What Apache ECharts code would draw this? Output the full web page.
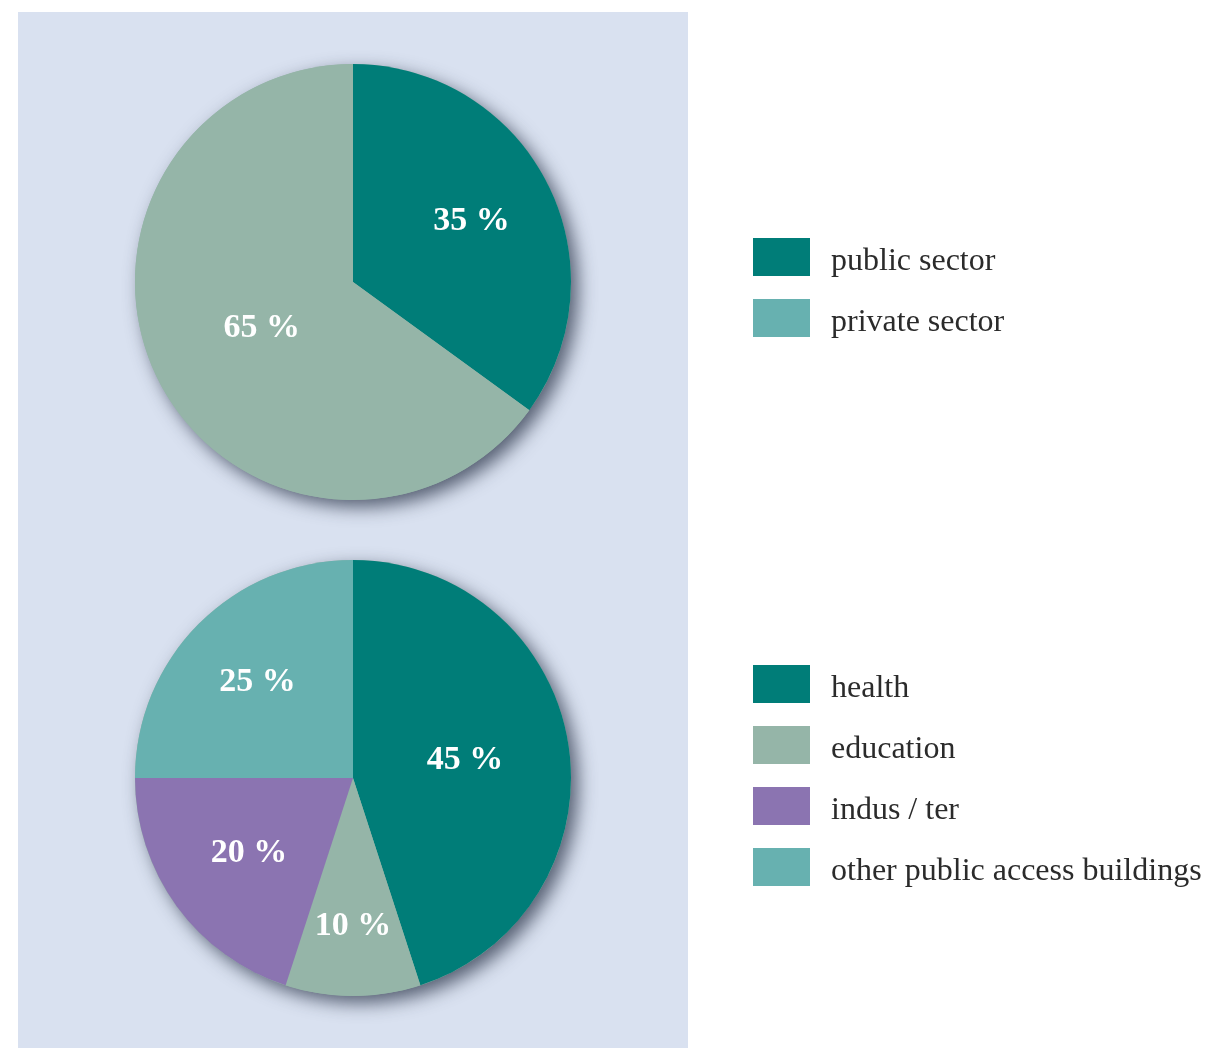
<!DOCTYPE html>
<html><head><meta charset="utf-8">
<script src="https://cdn.jsdelivr.net/npm/echarts@6/dist/echarts.min.js"></script>
<style>html,body{margin:0;padding:0;background:#fff}#c{width:1221px;height:1048px}</style>
</head><body><div id="c"></div>
<script>
const sectorNames = ['public sector', 'private sector'];
const sectorValues = [35, 65];
const useNames = ['health', 'education', 'indus / ter', 'other public access buildings'];
const useValues = [45, 10, 20, 25];

const teal = '#007d78', sage = '#95b5a8', purple = '#8b74b1', lightTeal = '#67b1b0';
const R = 218;
const topC = [353, 282], botC = [353, 778];
const topLabelR = [0.61, 0.47];
const botLabelR = [0.52, 0.68, 0.59, 0.62];

function layoutFor(values, c, rf) {
  const total = values.reduce((a, b) => a + b, 0);
  return function (p) {
    let acc = 0;
    for (let k = 0; k < p.dataIndex; k++) acc += values[k];
    const mid = (acc + values[p.dataIndex] / 2) / total * Math.PI * 2;
    const r = R * rf[p.dataIndex];
    return { x: c[0] + r * Math.sin(mid), y: c[1] - r * Math.cos(mid) };
  };
}

const labelStyle = {
  show: true, position: 'inside', formatter: '{c} %', color: '#fff',
  fontFamily: 'Liberation Serif', fontWeight: 'bold', fontSize: 34
};

const chart = echarts.init(document.getElementById('c'), null, { renderer: 'canvas' });
const legendCommon = {
  orient: 'vertical', left: 748, itemWidth: 57, itemHeight: 38, itemGap: 21,
  icon: 'rect', selectedMode: false,
  formatter: '{t|{name}}',
  textStyle: { fontFamily: 'Liberation Serif', fontSize: 32, color: '#2b2b2b', padding: [0, 0, 0, 16],
    rich: { t: { fontFamily: 'Liberation Serif', fontSize: 32, color: '#2b2b2b', padding: [10, 0, 0, 0] } } }
};
chart.setOption({
  animation: false,
  graphic: [{ type: 'rect', z: -10, silent: true, shape: { x: 18, y: 12, width: 670, height: 1036 }, style: { fill: '#d9e1f0' } }],
  legend: [
    Object.assign({}, legendCommon, { top: 233, data: [
      { name: sectorNames[0], itemStyle: { color: teal } },
      { name: sectorNames[1], itemStyle: { color: lightTeal } }
    ] }),
    Object.assign({}, legendCommon, { top: 660, data: useNames.map(n => ({ name: n })) })
  ],
  series: [
    { type: 'pie', name: 'shadowTop', silent: true, z: 1, center: topC, radius: [0, R], label: { show: false }, labelLine: { show: false },
      data: [{ name: '_s1', value: 1 }], itemStyle: { color: sage, shadowBlur: 18, shadowOffsetX: 7, shadowOffsetY: 7, shadowColor: 'rgba(35,45,65,0.72)' } },
    { type: 'pie', name: 'shadowBot', silent: true, z: 1, center: botC, radius: [0, R], label: { show: false }, labelLine: { show: false },
      data: [{ name: '_s2', value: 1 }], itemStyle: { color: sage, shadowBlur: 18, shadowOffsetX: 7, shadowOffsetY: 7, shadowColor: 'rgba(35,45,65,0.72)' } },
    { type: 'pie', name: 'sector', z: 2, center: topC, radius: [0, R], startAngle: 90, clockwise: true,
      label: labelStyle, labelLine: { show: false }, labelLayout: layoutFor(sectorValues, topC, topLabelR),
      color: [teal, sage],
      data: sectorNames.map((n, i) => ({ name: n, value: sectorValues[i] })) },
    { type: 'pie', name: 'use', z: 2, center: botC, radius: [0, R], startAngle: 90, clockwise: true,
      label: labelStyle, labelLine: { show: false }, labelLayout: layoutFor(useValues, botC, botLabelR),
      color: [teal, sage, purple, lightTeal],
      data: useNames.map((n, i) => ({ name: n, value: useValues[i] })) }
  ]
});
</script></body></html>
